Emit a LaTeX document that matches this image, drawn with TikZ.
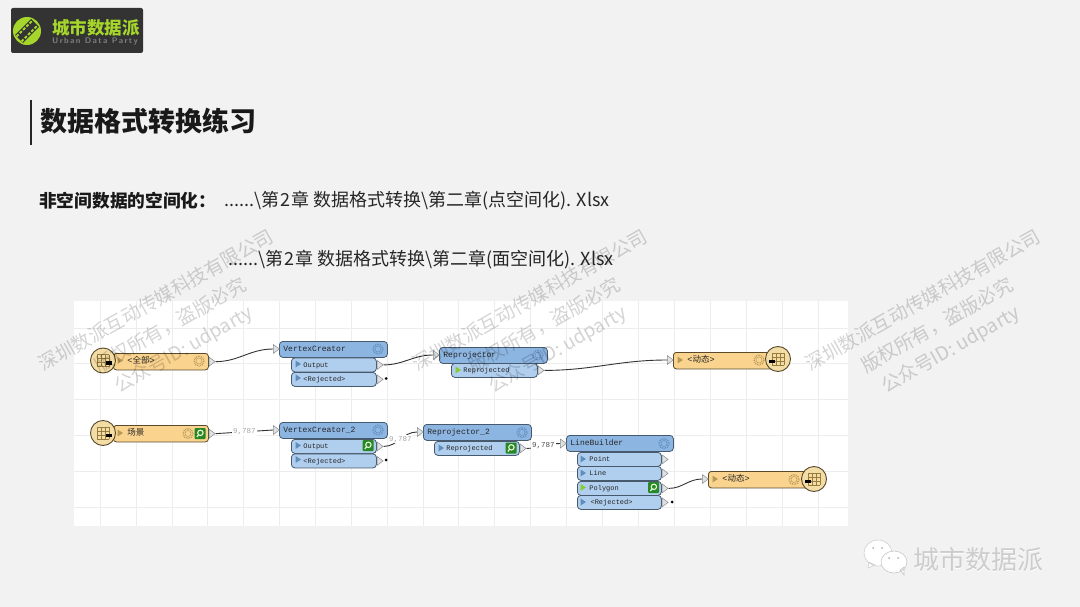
\documentclass[tikz,border=0pt]{standalone}
\usepackage{fontspec}
\setmainfont{Noto Sans CJK SC}
\newfontfamily\monof{Liberation Mono}
\usetikzlibrary{shapes.geometric}
\definecolor{pagebg}{HTML}{F2F2F2}
\definecolor{gridc}{HTML}{EDEDED}
\definecolor{lime}{HTML}{A6D62B}
\definecolor{logobg}{HTML}{333333}
\definecolor{hdrc}{HTML}{8DB5E2}
\definecolor{portc}{HTML}{B0CEEE}
\definecolor{edgec}{HTML}{47596C}
\definecolor{barc}{HTML}{FAD38F}
\definecolor{baredge}{HTML}{5A4A2A}
\definecolor{discc}{HTML}{F3DDA6}
\definecolor{tabc}{HTML}{9A7B3C}
\definecolor{tric}{HTML}{DDE2E5}
\definecolor{gearb}{HTML}{5F8DBE}
\definecolor{gearo}{HTML}{B79A58}
\tikzset{
  hdr/.style={draw=edgec,line width=.8pt,fill=hdrc,rounded corners=3.5pt,anchor=north west,inner xsep=4pt,inner ysep=0pt,
    minimum height=16pt,text width=#1,text height=6pt,text depth=1.5pt,font=\monof\fontsize{8}{8}\selectfont,text=black!85},
  port/.style={hdr=#1,fill=portc,inner xsep=12pt,minimum height=14pt,font=\monof\fontsize{7}{7}\selectfont},
  fbar/.style={draw=baredge,line width=.8pt,fill=barc,rounded corners=3pt,anchor=north west,inner xsep=14pt,inner ysep=0pt,
    minimum height=16.5pt,text width=#1,text height=6pt,text depth=1.5pt,font=\fontsize{8.5}{8.5}\selectfont,text=black!85},
  disc/.style={circle,draw=baredge,line width=.9pt,fill=discc,minimum size=25pt,inner sep=0pt},
  tri/.style={isosceles triangle,isosceles triangle stretches,draw=black!45,line width=.5pt,fill=tric,
    minimum height=6pt,minimum width=9pt,inner sep=0pt,anchor=west},
  wire/.style={draw=black!80,line width=.9pt},
  nlabel/.style={fill=white,inner sep=1pt,font=\monof\fontsize{7.5}{7.5}\selectfont,text=black!35},
  stub/.style={circle,fill=black,minimum size=3pt,inner sep=0pt},
  wmark/.style={rotate=29.5,text=black,opacity=.17,inner sep=0pt,font=\fontsize{19}{19}\selectfont},
  pathtxt/.style={font=\fontsize{18}{18}\selectfont,anchor=west,inner sep=0pt,text=black!85},
}
\newcommand{\playm}[3]{\fill[#3] (#1,#2) ++(-2.5,-3.5) -- ++(5.5,3.5) -- ++(-5.5,3.5) -- cycle;}
\newcommand{\gearm}[3]{\draw[#3,line width=1.3pt,dash pattern=on .9pt off .9pt] (#1,#2) circle (5);\draw[#3,line width=.5pt] (#1,#2) circle (3);}
\newcommand{\lensm}[2]{\fill[green!45!black!85,rounded corners=1pt] (#1-5.5,#2-5.5) rectangle (#1+5.5,#2+5.5);
  \draw[white!80!lime,line width=1.1pt] (#1+.4,#2-.7) circle (2.7);\draw[white!80!lime,line width=1.2pt] (#1-1.3,#2+1.3)--(#1-3.2,#2+3.4);}
\newcommand{\tablem}[3]{\foreach \t in {-6,-2,2,6}{\draw[tabc,line width=.6pt] (#1-6,#2+\t)--(#1+6,#2+\t);\draw[tabc,line width=.6pt] (#1+\t,#2-6)--(#1+\t,#2+6);}
  \fill[black] (#1+#3-3,#2+.5) rectangle (#1+#3+3,#2+4);}
\begin{document}
\begin{tikzpicture}[x=1pt,y=-1pt]
\useasboundingbox (0,0) rectangle (1080,607);
\fill[pagebg] (0,0) rectangle (1080,607);

% logo
\fill[logobg,rounded corners=2pt] (11,8) rectangle (143,53);
\fill[lime] (27,31) circle (14);
\draw[logobg,line width=11pt] (19,39)--(35,23);
\draw[lime,line width=2pt,dash pattern=on 3pt off 1.6pt] (16.5,36.5)--(32.5,20.5);
\draw[lime,line width=2pt,dash pattern=on 3pt off 1.6pt] (21.5,41.5)--(37.5,25.5);
\node[text=lime,font=\bfseries\fontsize{17.5}{17.5}\selectfont,anchor=west,inner sep=0pt] (logotxt) at (52,28) {城市数据派};
\node[text=black!50,font=\sffamily\bfseries\fontsize{8.2}{8.2}\selectfont,anchor=west,inner sep=0pt] (logosub) at (52,41) {U\,r\,b\,a\,n\, D\,a\,t\,a\, P\,a\,r\,t\,y};

% title
\draw[black!85,line width=2pt] (30.5,100)--(30.5,145);
\node[font=\bfseries\fontsize{27}{27}\selectfont,anchor=west,inner sep=0pt,text=black!90] (title) at (40,121) {数据格式转换练习};
\node[font=\bfseries\fontsize{17.7}{17.7}\selectfont,anchor=west,inner sep=0pt,text=black!90] (lead) at (39,200.5) {非空间数据的空间化：};
\node[pathtxt] (path1) at (224,200.5) {......\textbackslash 第\kern1pt 2\kern1pt 章 数据格式转换\textbackslash 第二章(点空间化). Xlsx};
\node[pathtxt] (path2) at (228,259.5) {......\textbackslash 第\kern1pt 2\kern1pt 章 数据格式转换\textbackslash 第二章(面空间化). Xlsx};

% canvas
\fill[white] (74,301) rectangle (848,526);
\foreach \x in {100,136,172,207,243,279,315,351,387,423,458,494,530,566,602,638,674,710,746,782,818}
  \draw[gridc,line width=.6pt] (\x,301)--(\x,526);
\foreach \y in {328,363,399,435,471,507}
  \draw[gridc,line width=.6pt] (74,\y)--(848,\y);

% top row
\node[fbar=67pt] (rdall) at (113,353) {\monof<\normalfont 全部\monof>};
\node[tri] (rdallT) at (rdall.east) {};
\node[disc] (rdallD) at (103,360.5) {};
\tablem{103}{360.5}{6}
\playm{120}{360.5}{gearo}
\gearm{199}{361}{gearo}

\node[hdr=100pt] (vc) at (279,341) {VertexCreator};
\node[port=61pt] (vcout) at (291,357.5) {Output};
\node[port=61pt] (vcrej) at (291,372) {<Rejected>};
\node[tri] (vcin) at (273,349) {};
\node[tri] (vcoutT) at (vcout.east) {};
\node[tri] (vcrejT) at (vcrej.east) {};
\node[stub] (vcrejS) at (386,378.5) {};
\gearm{378}{349}{gearb}
\playm{298}{364}{gearb}
\playm{298}{378}{gearb}

\node[hdr=100pt] (rp) at (439,347) {Reprojector};
\node[port=62pt] (rpout) at (451,363) {Reprojected};
\node[tri] (rpin) at (433,355) {};
\node[tri] (rpoutT) at (rpout.east) {};
\gearm{538}{355}{gearb}
\playm{458}{370}{green!45!yellow!60!gray}

\node[fbar=76pt] (wrb) at (673,352) {\monof<\normalfont 动态\monof>};
\node[tri] (wrbin) at (667,360) {};
\node[disc] (wrbD) at (778,359) {};
\tablem{778}{359}{-6}
\playm{680}{360}{gearo}
\gearm{759}{360}{gearo}

% bottom row
\node[fbar=67pt] (rds) at (113,425) {场景};
\node[tri] (rdsT) at (rds.east) {};
\node[disc] (rdsD) at (103,433) {};
\tablem{103}{433}{6}
\playm{120}{433}{gearo}
\gearm{188}{433.5}{gearo}
\lensm{200}{433.5}

\node[hdr=100pt] (vctwo) at (279,422) {VertexCreator\_2};
\node[port=61pt] (vctwoout) at (291,439) {Output};
\node[port=61pt] (vctworej) at (291,453.5) {<Rejected>};
\node[tri] (vctwoin) at (273,430) {};
\node[tri] (vctwooutT) at (vctwoout.east) {};
\node[tri] (vctworejT) at (vctworej.east) {};
\node[stub] (vctworejS) at (386,460) {};
\gearm{378}{430}{gearb}
\playm{298}{445.5}{gearb}
\playm{298}{459.5}{gearb}
\lensm{368}{445.5}

\node[hdr=100pt] (rptwo) at (423,424) {Reprojector\_2};
\node[port=61pt] (rptwoout) at (434,441) {Reprojected};
\node[tri] (rptwoin) at (417,432) {};
\node[tri] (rptwooutT) at (rptwoout.east) {};
\gearm{522}{432.5}{gearb}
\playm{441}{448}{gearb}
\lensm{511}{448}

\node[hdr=99pt] (lb) at (566,435) {LineBuilder};
\node[port=60pt] (lbpt) at (577,452) {Point};
\node[port=60pt] (lbln) at (577,466) {Line};
\node[port=60pt] (lbpg) at (577,481) {Polygon};
\node[port=60pt] (lbrj) at (577,495) {\,<Rejected>};
\node[tri] (lbin) at (560,443.5) {};
\node[tri] (lbptT) at (lbpt.east) {};
\node[tri] (lblnT) at (lbln.east) {};
\node[tri] (lbpgT) at (lbpg.east) {};
\node[tri] (lbrjT) at (lbrj.east) {};
\node[stub] (lbrjS) at (672,502) {};
\gearm{664}{443.5}{gearb}
\playm{583}{459}{gearb}
\playm{583}{473}{gearb}
\playm{583}{487.5}{green!45!yellow!60!gray}
\playm{583}{502}{gearb}
\lensm{653.5}{487.5}

\node[fbar=76pt] (wrl) at (708,471) {\monof<\normalfont 动态\monof>};
\node[tri] (wrlin) at (702,479) {};
\node[disc] (wrlD) at (814,479) {};
\tablem{814}{479}{-6}
\playm{715}{479}{gearo}
\gearm{794}{479.5}{gearo}

% connectors
\draw[wire] (rdallT.east) to[out=0,in=180] (vcin.west);
\draw[wire] (vcoutT.east) to[out=0,in=180] (rpin.west);
\draw[wire] (rpoutT.east) to[out=0,in=180] (wrbin.west);
\draw[wire] (rdsT.east) -- node[nlabel] (cnta) {9,787} (vctwoin.west);
\draw[wire] (vctwooutT.east) to[out=0,in=180] node[nlabel] (cntb) {9,787} (rptwoin.west);
\draw[wire] (rptwooutT.east) to[out=0,in=180] node[nlabel,text=black!70] (cntc) {9,787} (lbin.west);
\draw[wire] (lbpgT.east) to[out=0,in=180] (wrlin.west);

% watermark
\foreach \dx/\k in {0/a,374/b,767/c}{
  \node[wmark] (wm\k one) at (156+\dx,300) {深圳数派互动传媒科技有限公司};
  \node[wmark] (wm\k two) at (170+\dx,325) {版权所有，盗版必究};
  \node[wmark] (wm\k three) at (184+\dx,350) {公众号ID: udparty};
}

% bottom right
\fill[white,draw=black!18,line width=.6pt] (878,553) ellipse (14 and 13) (869,562)--(868,568)--(875,565)--cycle;
\fill[white,draw=black!22,line width=.6pt] (894,562) ellipse (13 and 11) (900,570)--(904,575)--(904,567)--cycle;
\foreach \p in {(873,548),(882,548),(889,558),(898,558)}
  \fill[black!30] \p circle (1);
\node[font=\fontsize{26}{26}\selectfont,text=white,anchor=west,inner sep=0pt] (wxa) at (913.7,561) {城市数据派};
\node[font=\fontsize{26}{26}\selectfont,text=black!20,anchor=west,inner sep=0pt] (wxb) at (913,560) {城市数据派};
\end{tikzpicture}
\end{document}
